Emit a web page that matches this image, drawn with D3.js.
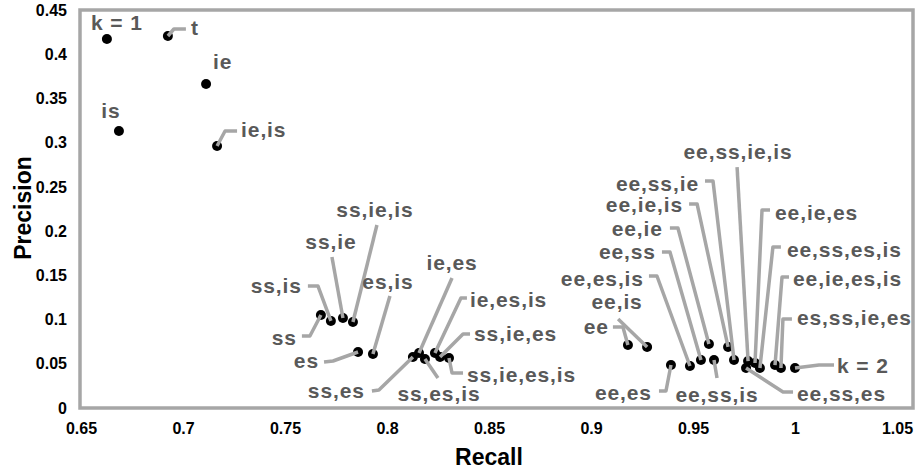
<!DOCTYPE html>
<html><head><meta charset="utf-8">
<script src="https://cdn.jsdelivr.net/npm/d3@7"></script>
<style>
html,body{margin:0;padding:0;background:#fff;}
svg{display:block;font-family:"Liberation Sans",Arial,sans-serif;}
</style></head>
<body>
<svg id="c" width="917" height="472"></svg>
<script>
// ---- data ----
const pointLabels = ["k = 1","t","ie","is","ie,is",
  "ss","ss,is","ss,ie","ss,ie,is","es,is","es","ss,es","ie,es","ss,es,is","ie,es,is","ss,ie,es","ss,ie,es,is",
  "ee","ee,is","ee,es","ee,es,is","ee,ss","ee,ie","ee,ie,is","ee,ss,ie","ee,ss,ie,is","ee,ie,es","ee,ss,es,is","ee,ie,es,is","es,ss,ie,es","k = 2","ee,ss,es","ee,ss,is"];
const recall = [0.6627,0.6926,0.7113,0.6686,0.7167,
  0.7676,0.7725,0.7784,0.7833,0.7931,0.7858,0.8127,0.8157,0.8186,0.8235,0.8260,0.8304,
  0.9181,0.9275,0.9392,0.9485,0.9539,0.9578,0.9672,0.9701,0.9770,0.9804,0.9828,0.9902,0.9931,1.0000,0.9760,0.9603];
const precision = [0.4172,0.4206,0.3663,0.3132,0.2962,
  0.1052,0.0984,0.1018,0.0972,0.0611,0.0633,0.0577,0.0622,0.0554,0.0622,0.0577,0.0565,
  0.0712,0.0690,0.0486,0.0475,0.0543,0.0724,0.0690,0.0543,0.0531,0.0509,0.0452,0.0486,0.0452,0.0452,0.0452,0.0543];
const xTicks = [0.65,0.7,0.75,0.8,0.85,0.9,0.95,1,1.05];
const yTicks = [0,0.05,0.1,0.15,0.2,0.25,0.3,0.35,0.4,0.45];
const xTitle = "Recall", yTitle = "Precision";

// ---- label layout (pixel offsets from each point) ----
const labelLayout = [
  {a:"middle",dx:10,dy:-15,l:[]},
  {a:"start",dx:23,dy:-7,l:[[6,-7],[18,-7]]},
  {a:"start",dx:7,dy:-21,l:[]},
  {a:"middle",dx:-8,dy:-19,l:[]},
  {a:"start",dx:24,dy:-15,l:[[8,-15],[20,-15]]},
  {a:"end",dx:-24,dy:24,l:[[-11,21],[-19,21]]},
  {a:"end",dx:-29,dy:-34,l:[[-13,-35],[-23,-35]]},
  {a:"middle",dx:-12,dy:-75,l:[[-11,-61]]},
  {a:"middle",dx:22,dy:-111,l:[[24,-97]]},
  {a:"middle",dx:15,dy:-71,l:[[17,-58]]},
  {a:"end",dx:-39,dy:10,l:[[-25,9],[-34,10]]},
  {a:"end",dx:-48,dy:35,l:[[-34,33],[-41,34]]},
  {a:"middle",dx:33,dy:-89,l:[[33,-75]]},
  {a:"middle",dx:14,dy:36,l:[[13,19]]},
  {a:"start",dx:35,dy:-52,l:[[26,-55],[32,-55]]},
  {a:"start",dx:34,dy:-22,l:[[23,-23],[30,-23]]},
  {a:"start",dx:18,dy:18,l:[[3,15],[14,15]]},
  {a:"end",dx:-19,dy:-17,l:[[-5,-18],[-15,-18]]},
  {a:"middle",dx:-30,dy:-44,l:[[-29,-28]]},
  {a:"end",dx:-19,dy:29,l:[[-5,26],[-12,26]]},
  {a:"end",dx:-46,dy:-86,l:[[-33,-90],[-41,-90]]},
  {a:"end",dx:-45,dy:-107,l:[[-31,-108],[-39,-108]]},
  {a:"end",dx:-46,dy:-114,l:[[-31,-116],[-39,-116]]},
  {a:"end",dx:-45,dy:-141,l:[[-31,-143],[-39,-143]]},
  {a:"end",dx:-35,dy:-175,l:[[-21,-179],[-29,-179]]},
  {a:"middle",dx:-10,dy:-208,l:[[-11,-194]]},
  {a:"start",dx:20,dy:-149,l:[[7,-153],[15,-153]]},
  {a:"start",dx:27,dy:-117,l:[[13,-121],[21,-121]]},
  {a:"start",dx:18,dy:-85,l:[[7,-88],[14,-88]]},
  {a:"start",dx:16,dy:-49,l:[[2,-49],[11,-49]]},
  {a:"start",dx:42,dy:-1,l:[[24,-3],[39,-3]]},
  {a:"start",dx:51,dy:27,l:[[37,24],[47,24]]},
  {a:"middle",dx:3,dy:36,l:[[3,18]]}
];

const svg = d3.select("#c");
const x = d3.scaleLinear().domain([0.65,1.05]).range([81,897]);
const y = d3.scaleLinear().domain([0,0.45]).range([408,10]);
const fmt = d => String(+d.toFixed(2));

// frame
svg.append("rect").attr("x",80).attr("y",10).attr("width",833).attr("height",398)
  .attr("fill","none").attr("stroke","#a6a6a6").attr("stroke-width",3.5);

// axes
const gx = svg.append("g").attr("transform","translate(0,408)")
  .call(d3.axisBottom(x).tickValues(xTicks).tickFormat(fmt).tickSize(0).tickPadding(15));
const gy = svg.append("g").attr("transform","translate(81,0)")
  .call(d3.axisLeft(y).tickValues(yTicks).tickFormat(fmt).tickSize(0).tickPadding(14));
[gx,gy].forEach(g=>{
  g.select(".domain").remove();
  g.selectAll("text").attr("font-family","'Liberation Sans',Arial,sans-serif")
    .attr("font-size",16).attr("font-weight","bold").attr("fill","#000");
});

// titles
svg.append("text").attr("x",489).attr("y",465).attr("text-anchor","middle")
  .attr("font-size",23).attr("font-weight","bold").text(xTitle);
svg.append("text").attr("transform","translate(31,208) rotate(-90)").attr("text-anchor","middle")
  .attr("font-size",23).attr("font-weight","bold").text(yTitle);

const pts = pointLabels.map((t,i)=>({t, px:x(recall[i]), py:y(precision[i]), L:labelLayout[i]}));

// markers
svg.append("g").selectAll("circle").data(pts).join("circle")
  .attr("cx",d=>d.px).attr("cy",d=>d.py).attr("r",5).attr("fill","#000");

// leader lines
const line = d3.line();
svg.append("g").selectAll("path").data(pts.filter(d=>d.L.l.length)).join("path")
  .attr("d",d=>line([[d.px,d.py]].concat(d.L.l.map(p=>[d.px+p[0],d.py+p[1]]))))
  .attr("fill","none").attr("stroke","#a6a6a6").attr("stroke-width",3.5)
  .attr("stroke-linejoin","round");

// labels
svg.append("g").selectAll("text").data(pts).join("text")
  .attr("x",d=>d.px+d.L.dx).attr("y",d=>d.py+d.L.dy+6)
  .attr("text-anchor",d=>d.L.a)
  .attr("font-size",21).attr("font-weight","bold").attr("letter-spacing","0.9px")
  .attr("fill","#595959").text(d=>d.t);
</script>
</body></html>
